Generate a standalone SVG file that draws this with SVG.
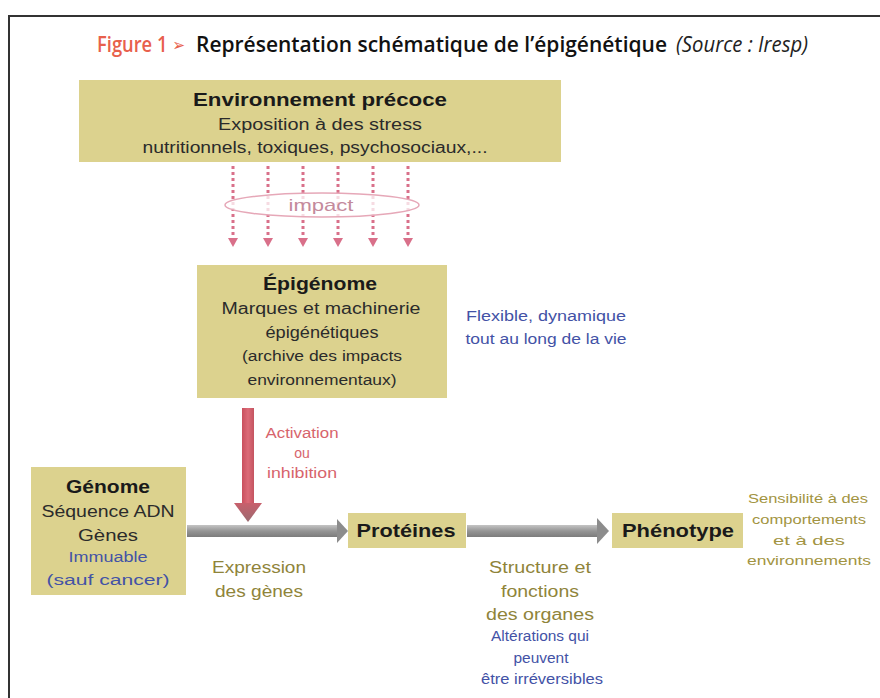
<svg xmlns="http://www.w3.org/2000/svg" width="880" height="698" viewBox="0 0 880 698">
<defs>
<style>
.box{fill:#dcd28e;}
.t{font-family:"Liberation Sans",Arial,sans-serif;text-anchor:middle;}
.b{font-weight:bold;fill:#1a1a1a;font-size:18.5px;}
.r{fill:#2b2b2b;font-size:16px;}
.s{fill:#2b2b2b;font-size:14px;}
.blue{fill:#4352a6;font-size:14px;}
.olive{fill:#8f843a;font-size:16px;}
.olives{fill:#a29442;font-size:13.5px;}
.red{fill:#d7646c;font-size:14px;}
.dot{stroke:#d9708a;stroke-width:3;stroke-dasharray:3 3;fill:none;}
.ti{font-family:"Open Sans","Liberation Sans",sans-serif;font-size:18px;}
</style>
<linearGradient id="gray" x1="0" y1="0" x2="0" y2="1">
<stop offset="0" stop-color="#c4c4c4"/>
<stop offset="0.5" stop-color="#959595"/>
<stop offset="1" stop-color="#7c7c7c"/>
</linearGradient>
<linearGradient id="redg" x1="0" y1="0" x2="1" y2="0">
<stop offset="0" stop-color="#c9505e"/>
<stop offset="0.5" stop-color="#dc6b78"/>
<stop offset="1" stop-color="#c45460"/>
</linearGradient>
<linearGradient id="redh" x1="0" y1="0" x2="0" y2="1">
<stop offset="0" stop-color="#c8606c"/>
<stop offset="1" stop-color="#9a6a70"/>
</linearGradient>
<marker id="ph" markerUnits="userSpaceOnUse" markerWidth="10" markerHeight="10" refX="1" refY="5" orient="auto">
<path d="M0,0 L9,5 L0,10 z" fill="#d9708a"/>
</marker>
</defs>
<rect width="880" height="698" fill="#ffffff"/>
<path d="M9,698 V16 H880" fill="none" stroke="#333" stroke-width="2"/>

<g id="title" transform="translate(0,52) scale(1,1.17)">
<text class="ti" x="97" y="0" fill="#e8604c" font-weight="600" textLength="88" lengthAdjust="spacingAndGlyphs">Figure 1 <tspan font-family="DejaVu Sans,sans-serif" font-weight="normal" font-size="15" dy="-1">➢</tspan></text>
<text class="ti" x="196" y="0" fill="#111" font-weight="600" textLength="471" lengthAdjust="spacingAndGlyphs">Représentation schématique de l’épigénétique</text>
<text class="ti" x="676" y="0" fill="#222" font-style="italic" textLength="132" lengthAdjust="spacingAndGlyphs">(Source : Iresp)</text>
</g>

<g id="connectors">
<line class="dot" x1="233" y1="166" x2="233" y2="239" marker-end="url(#ph)"/>
<line class="dot" x1="268" y1="166" x2="268" y2="239" marker-end="url(#ph)"/>
<line class="dot" x1="303" y1="166" x2="303" y2="239" marker-end="url(#ph)"/>
<line class="dot" x1="338" y1="166" x2="338" y2="239" marker-end="url(#ph)"/>
<line class="dot" x1="373" y1="166" x2="373" y2="239" marker-end="url(#ph)"/>
<line class="dot" x1="408" y1="166" x2="408" y2="239" marker-end="url(#ph)"/>
<g id="impact">
<ellipse cx="322" cy="205" rx="97" ry="12" fill="#ffffff" fill-opacity="0.75" stroke="#e6a8b8" stroke-width="1.5"/>
<text class="t" x="321" y="211" fill="#c48a9c" font-size="17" textLength="65" lengthAdjust="spacingAndGlyphs">impact</text>
</g>
<rect x="242" y="408" width="12" height="97" fill="url(#redg)"/>
<polygon points="234,503 262,503 248,522" fill="url(#redh)"/>
<rect x="187" y="525" width="152" height="12" fill="url(#gray)"/>
<polygon points="337,519 348,531 337,543" fill="#8c8c8c"/>
<rect x="467" y="525" width="132" height="12" fill="url(#gray)"/>
<polygon points="597,518 609,531 597,544" fill="#8c8c8c"/>
</g>

<g id="environnement">
<rect class="box" x="79" y="80" width="482" height="82"/>
<text class="t b" x="320" y="106" textLength="254" lengthAdjust="spacingAndGlyphs">Environnement précoce</text>
<text class="t r" x="320" y="130" font-size="17" textLength="204" lengthAdjust="spacingAndGlyphs">Exposition à des stress</text>
<text class="t r" x="315" y="153" font-size="17" textLength="345" lengthAdjust="spacingAndGlyphs">nutritionnels, toxiques, psychosociaux,...</text>
</g>

<g id="epigenome">
<rect class="box" x="197" y="265" width="250" height="133"/>
<text class="t b" x="320" y="290" textLength="114" lengthAdjust="spacingAndGlyphs">Épigénome</text>
<text class="t r" x="321" y="314" textLength="199" lengthAdjust="spacingAndGlyphs">Marques et machinerie</text>
<text class="t r" x="322" y="338" textLength="113" lengthAdjust="spacingAndGlyphs">épigénétiques</text>
<text class="t s" x="322" y="361" textLength="160" lengthAdjust="spacingAndGlyphs">(archive des impacts</text>
<text class="t s" x="322" y="385" textLength="149" lengthAdjust="spacingAndGlyphs">environnementaux)</text>
</g>

<g id="flexible">
<text class="t blue" x="546" y="321" textLength="160" lengthAdjust="spacingAndGlyphs">Flexible, dynamique</text>
<text class="t blue" x="546" y="344" textLength="161" lengthAdjust="spacingAndGlyphs">tout au long de la vie</text>
</g>

<g id="activation">
<text class="t red" x="302" y="438" textLength="73" lengthAdjust="spacingAndGlyphs">Activation</text>
<text class="t red" x="302" y="458">ou</text>
<text class="t red" x="302" y="478" textLength="70" lengthAdjust="spacingAndGlyphs">inhibition</text>
</g>

<g id="genome">
<rect class="box" x="31" y="467" width="155" height="128"/>
<text class="t b" x="108" y="493" textLength="84" lengthAdjust="spacingAndGlyphs">Génome</text>
<text class="t r" x="108" y="517" textLength="133" lengthAdjust="spacingAndGlyphs">Séquence ADN</text>
<text class="t r" x="108" y="541" textLength="60" lengthAdjust="spacingAndGlyphs">Gènes</text>
<text class="t blue" x="108" y="562" textLength="79" lengthAdjust="spacingAndGlyphs">Immuable</text>
<text class="t blue" x="108" y="585" textLength="123" lengthAdjust="spacingAndGlyphs">(sauf cancer)</text>
</g>

<g id="expression">
<text class="t olive" x="259" y="573" textLength="94" lengthAdjust="spacingAndGlyphs">Expression</text>
<text class="t olive" x="259" y="597" textLength="88" lengthAdjust="spacingAndGlyphs">des gènes</text>
</g>

<g id="proteines">
<rect class="box" x="348" y="513" width="118" height="35"/>
<text class="t b" x="406" y="537" textLength="99" lengthAdjust="spacingAndGlyphs">Protéines</text>
</g>

<g id="phenotype">
<rect class="box" x="612" y="513" width="131" height="35"/>
<text class="t b" x="678" y="537" textLength="112" lengthAdjust="spacingAndGlyphs">Phénotype</text>
</g>

<g id="sensibilite">
<text class="t olives" x="808" y="503" textLength="120" lengthAdjust="spacingAndGlyphs">Sensibilité à des</text>
<text class="t olives" x="809" y="524" textLength="114" lengthAdjust="spacingAndGlyphs">comportements</text>
<text class="t olives" x="809" y="545" textLength="72" lengthAdjust="spacingAndGlyphs">et à des</text>
<text class="t olives" x="809" y="565" textLength="124" lengthAdjust="spacingAndGlyphs">environnements</text>
</g>

<g id="structure">
<text class="t olive" x="540" y="573" textLength="102" lengthAdjust="spacingAndGlyphs">Structure et</text>
<text class="t olive" x="540" y="597" textLength="78" lengthAdjust="spacingAndGlyphs">fonctions</text>
<text class="t olive" x="540" y="620" textLength="108" lengthAdjust="spacingAndGlyphs">des organes</text>
<text class="t blue" x="540" y="641" textLength="98" lengthAdjust="spacingAndGlyphs">Altérations qui</text>
<text class="t blue" x="541" y="663" textLength="55" lengthAdjust="spacingAndGlyphs">peuvent</text>
<text class="t blue" x="542" y="684" textLength="122" lengthAdjust="spacingAndGlyphs">être irréversibles</text>
</g>
</svg>
